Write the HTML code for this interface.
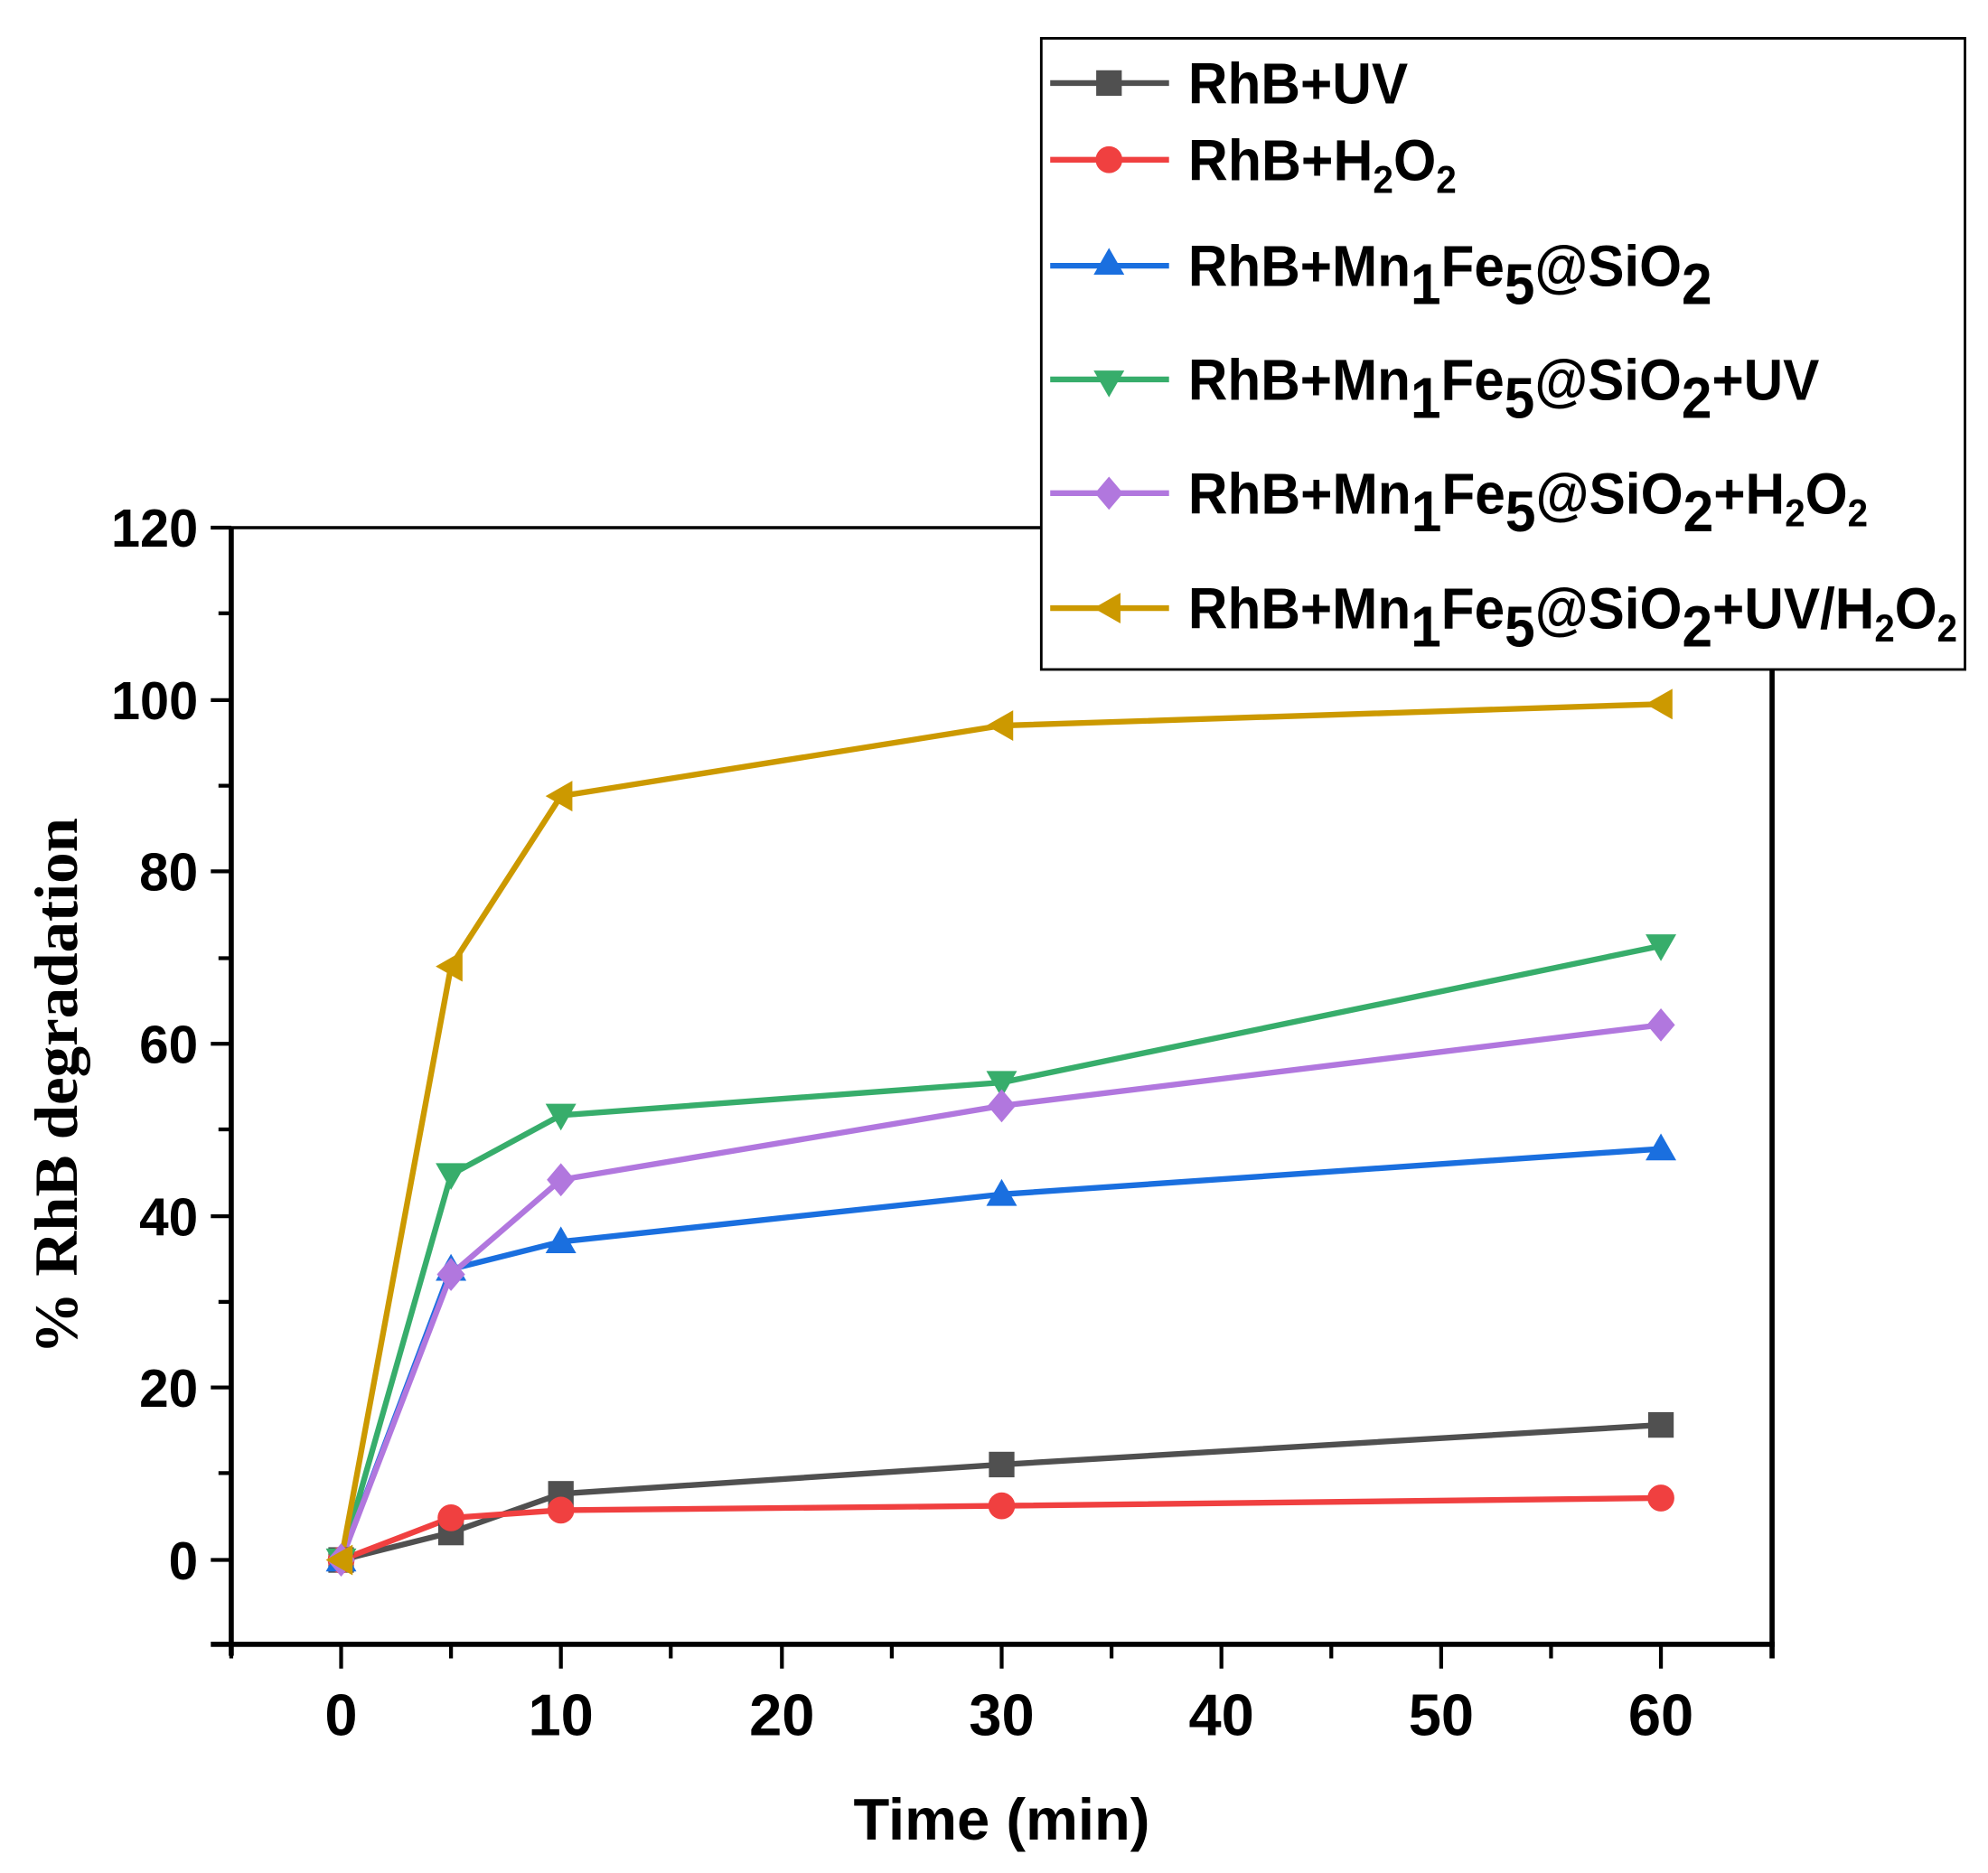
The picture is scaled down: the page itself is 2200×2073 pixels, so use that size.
<!DOCTYPE html>
<html><head><meta charset="utf-8"><style>html,body{margin:0;padding:0;background:#fff}svg{display:block}</style></head>
<body>
<svg width="2200" height="2073" viewBox="0 0 1556 1466" preserveAspectRatio="none" xmlns="http://www.w3.org/2000/svg" font-family="Liberation Sans, Arial, sans-serif" font-weight="bold">
<rect width="1556" height="1466" fill="#fff"/>
<g stroke="#000" stroke-width="3" fill="none">
<line x1="165" y1="413" x2="1387" y2="413" stroke-width="2.5"/>
<line x1="181" y1="413" x2="181" y2="1296" stroke-width="4"/>
<line x1="165" y1="1287" x2="1389" y2="1287" stroke-width="4"/>
<line x1="1387" y1="413" x2="1387" y2="1298" stroke-width="4"/>
<path d="M165 413H181M165 548H181M165 682H181M165 817H181M165 952H181M165 1086H181M165 1221H181"/>
<path d="M171 480H181M171 615H181M171 750H181M171 884H181M171 1019H181M171 1153H181"/>
<path d="M267 1287V1306M439 1287V1306M612 1287V1306M784 1287V1306M956 1287V1306M1128 1287V1306M1300 1287V1306"/>
<path d="M181 1287V1298M353 1287V1298M525 1287V1298M698 1287V1298M870 1287V1298M1042 1287V1298M1214 1287V1298"/>
</g>
<g font-size="42" text-anchor="end" fill="#000">
<text x="155" y="428" textLength="68" lengthAdjust="spacingAndGlyphs">120</text>
<text x="155" y="563" textLength="68" lengthAdjust="spacingAndGlyphs">100</text>
<text x="155" y="697" textLength="46" lengthAdjust="spacingAndGlyphs">80</text>
<text x="155" y="832" textLength="46" lengthAdjust="spacingAndGlyphs">60</text>
<text x="155" y="967" textLength="46" lengthAdjust="spacingAndGlyphs">40</text>
<text x="155" y="1101" textLength="46" lengthAdjust="spacingAndGlyphs">20</text>
<text x="155" y="1236" textLength="23" lengthAdjust="spacingAndGlyphs">0</text>
</g>
<g font-size="46" text-anchor="middle" fill="#000">
<text x="267" y="1358">0</text>
<text x="439" y="1358">10</text>
<text x="612" y="1358">20</text>
<text x="784" y="1358">30</text>
<text x="956" y="1358">40</text>
<text x="1128" y="1358">50</text>
<text x="1300" y="1358">60</text>
<text x="784" y="1440" font-size="46" textLength="232" lengthAdjust="spacingAndGlyphs">Time (min)</text>
</g>
<text transform="translate(60,850) rotate(-90)" text-anchor="middle" font-family="Liberation Serif, serif" font-size="48" fill="#000" textLength="420" lengthAdjust="spacingAndGlyphs">% RhB degradation</text>
<g fill="none" stroke-width="4.5" stroke-linejoin="round">
<polyline stroke="#505050" points="267,1221 353,1199.5 439,1169.2 784,1146.3 1300,1115.3"/>
<polyline stroke="#f04040" points="267,1221 353,1188 439,1182 784,1178.6 1300,1172.5"/>
<polyline stroke="#1a6fdf" points="267,1221 353,993.4 439,971.9 784,934.8 1300,899.2"/>
<polyline stroke="#37ad6b" points="267,1221 353,919.4 439,872.9 784,847.3 1300,740.3"/>
<polyline stroke="#b177de" points="267,1221 353,997.5 439,923.4 784,865.5 1300,802.2"/>
<polyline stroke="#cc9900" points="267,1221 353,756.4 439,623.1 784,567.9 1300,551.1"/>
</g>
<defs>
<rect id="sq" x="-10" y="-10" width="20" height="20" fill="#505050"/>
<circle id="ci" r="10.5" fill="#f04040"/>
<path id="tu" d="M0,-12 L12,9 L-12,9Z" fill="#1a6fdf"/>
<path id="td" d="M0,12 L12,-9 L-12,-9Z" fill="#37ad6b"/>
<path id="di" d="M0,-13 L11,0 L0,13 L-11,0Z" fill="#b177de"/>
<path id="tl" d="M-12,0 L9,-12 L9,12Z" fill="#cc9900"/>
</defs>
<g>
<use href="#sq" x="267" y="1221"/><use href="#sq" x="353" y="1199.5"/><use href="#sq" x="439" y="1169.2"/><use href="#sq" x="784" y="1146.3"/><use href="#sq" x="1300" y="1115.3"/>
<use href="#ci" x="267" y="1221"/><use href="#ci" x="353" y="1188"/><use href="#ci" x="439" y="1182"/><use href="#ci" x="784" y="1178.6"/><use href="#ci" x="1300" y="1172.5"/>
<use href="#tu" x="267" y="1221"/><use href="#tu" x="353" y="993.4"/><use href="#tu" x="439" y="971.9"/><use href="#tu" x="784" y="934.8"/><use href="#tu" x="1300" y="899.2"/>
<use href="#td" x="267" y="1221"/><use href="#td" x="353" y="919.4"/><use href="#td" x="439" y="872.9"/><use href="#td" x="784" y="847.3"/><use href="#td" x="1300" y="740.3"/>
<use href="#di" x="267" y="1221"/><use href="#di" x="353" y="997.5"/><use href="#di" x="439" y="923.4"/><use href="#di" x="784" y="865.5"/><use href="#di" x="1300" y="802.2"/>
<use href="#tl" x="267" y="1221"/><use href="#tl" x="353" y="756.4"/><use href="#tl" x="439" y="623.1"/><use href="#tl" x="784" y="567.9"/><use href="#tl" x="1300" y="551.1"/>
</g>
<rect x="815" y="30" width="723" height="494" fill="#fff" stroke="#000" stroke-width="2"/>
<g stroke-width="4.5">
<line x1="822" y1="65" x2="915" y2="65" stroke="#505050"/>
<line x1="822" y1="125" x2="915" y2="125" stroke="#f04040"/>
<line x1="822" y1="208" x2="915" y2="208" stroke="#1a6fdf"/>
<line x1="822" y1="297" x2="915" y2="297" stroke="#37ad6b"/>
<line x1="822" y1="386" x2="915" y2="386" stroke="#b177de"/>
<line x1="822" y1="476" x2="915" y2="476" stroke="#cc9900"/>
</g>
<use href="#sq" x="868" y="65"/><use href="#ci" x="868" y="125"/><use href="#tu" x="868" y="206"/><use href="#td" x="868" y="299"/><use href="#di" x="868" y="386"/><use href="#tl" x="868" y="476"/>
<g font-size="45" fill="#000">
<text x="930" y="81" textLength="172" lengthAdjust="spacingAndGlyphs">RhB+UV</text>
<text x="930" y="141" textLength="210" lengthAdjust="spacingAndGlyphs">RhB+H<tspan font-size="30" dy="10">2</tspan><tspan dy="-10">O</tspan><tspan font-size="30" dy="10">2</tspan></text>
<text x="930" y="224" textLength="410" lengthAdjust="spacingAndGlyphs">RhB+Mn<tspan dy="14">1</tspan><tspan dy="-14">Fe</tspan><tspan dy="14">5</tspan><tspan dy="-14">@SiO</tspan><tspan dy="14">2</tspan></text>
<text x="930" y="313" textLength="494" lengthAdjust="spacingAndGlyphs">RhB+Mn<tspan dy="14">1</tspan><tspan dy="-14">Fe</tspan><tspan dy="14">5</tspan><tspan dy="-14">@SiO</tspan><tspan dy="14">2</tspan><tspan dy="-14">+UV</tspan></text>
<text x="930" y="402" textLength="532" lengthAdjust="spacingAndGlyphs">RhB+Mn<tspan dy="14">1</tspan><tspan dy="-14">Fe</tspan><tspan dy="14">5</tspan><tspan dy="-14">@SiO</tspan><tspan dy="14">2</tspan><tspan dy="-14">+H</tspan><tspan font-size="30" dy="10">2</tspan><tspan dy="-10">O</tspan><tspan font-size="30" dy="10">2</tspan></text>
<text x="930" y="492" textLength="602" lengthAdjust="spacingAndGlyphs">RhB+Mn<tspan dy="14">1</tspan><tspan dy="-14">Fe</tspan><tspan dy="14">5</tspan><tspan dy="-14">@SiO</tspan><tspan dy="14">2</tspan><tspan dy="-14">+UV/H</tspan><tspan font-size="30" dy="10">2</tspan><tspan dy="-10">O</tspan><tspan font-size="30" dy="10">2</tspan></text>
</g>
</svg>
</body></html>
